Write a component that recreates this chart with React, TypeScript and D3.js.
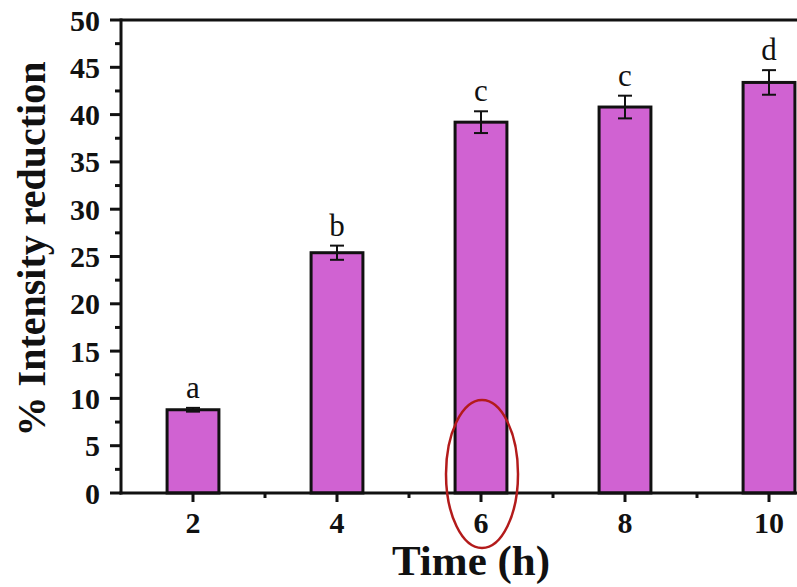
import * as d3 from 'd3';

const times = [2, 4, 6, 8, 10];
const reduction = [8.8, 25.4, 39.2, 40.8, 43.4];
const errors = [0.2, 0.75, 1.15, 1.2, 1.3];
const letters = ['a', 'b', 'c', 'c', 'd'];
const yTicks = [0, 5, 10, 15, 20, 25, 30, 35, 40, 45, 50];
const yMinor = [2.5, 7.5, 12.5, 17.5, 22.5, 27.5, 32.5, 37.5, 42.5, 47.5];
const xMinor = [3, 5, 7, 9];

const W = 797;
const H = 587;
const FONT = '"Liberation Serif", "Times New Roman", serif';

export default function App() {
  const x = d3.scaleLinear().domain([1, 11]).range([121, 841]);
  const y = d3.scaleLinear().domain([0, 50]).range([493, 20]);
  const barW = x(1.72) - x(1);
  const fill = '#d062d2';

  return (
    <svg
      width={W}
      height={H}
      style={{ position: 'absolute', left: 0, top: 0, background: '#fff' }}
      fontFamily={FONT}
    >
      {/* bars */}
      {times.map((t, i) => (
        <rect
          key={t}
          x={x(t) - barW / 2}
          y={y(reduction[i])}
          width={barW}
          height={y(0) - y(reduction[i])}
          fill={fill}
          stroke="#111"
          strokeWidth={3}
        />
      ))}

      {/* error bars */}
      {times.map((t, i) => {
        const cx = x(t);
        const top = y(reduction[i] + errors[i]);
        const bot = y(reduction[i] - errors[i]);
        return (
          <g key={'e' + t} stroke="#111" strokeWidth={2}>
            <line x1={cx} x2={cx} y1={top} y2={bot} />
            <line x1={cx - 7} x2={cx + 7} y1={top} y2={top} />
            <line x1={cx - 7} x2={cx + 7} y1={bot} y2={bot} />
          </g>
        );
      })}

      {/* significance letters */}
      {times.map((t, i) => (
        <text
          key={'l' + t}
          x={x(t)}
          y={y(reduction[i] + errors[i]) - 10}
          textAnchor="middle"
          fontSize={31}
          fill="#111"
        >
          {letters[i]}
        </text>
      ))}

      {/* axes frame */}
      <line x1={121} x2={W} y1={y(50)} y2={y(50)} stroke="#111" strokeWidth={3} />
      <line x1={121} x2={121} y1={y(50) - 1.5} y2={y(0) + 1.5} stroke="#111" strokeWidth={3} />
      <line x1={119.5} x2={W} y1={y(0)} y2={y(0)} stroke="#111" strokeWidth={3} />

      {/* y ticks */}
      {yTicks.map((v) => (
        <g key={'y' + v}>
          <line x1={110} x2={121} y1={y(v)} y2={y(v)} stroke="#111" strokeWidth={3} />
          <text
            x={100}
            y={y(v)}
            dy="0.35em"
            textAnchor="end"
            fontSize={30}
            fontWeight="bold"
            fill="#111"
          >
            {v}
          </text>
        </g>
      ))}
      {yMinor.map((v) => (
        <line key={'ym' + v} x1={115} x2={121} y1={y(v)} y2={y(v)} stroke="#111" strokeWidth={3} />
      ))}

      {/* x ticks */}
      {times.map((t) => (
        <g key={'x' + t}>
          <line x1={x(t)} x2={x(t)} y1={y(0)} y2={y(0) + 9} stroke="#111" strokeWidth={3} />
          <text
            x={x(t)}
            y={533}
            textAnchor="middle"
            fontSize={30}
            fontWeight="bold"
            fill="#111"
          >
            {t}
          </text>
        </g>
      ))}
      {xMinor.map((t) => (
        <line key={'xm' + t} x1={x(t)} x2={x(t)} y1={y(0)} y2={y(0) + 5} stroke="#111" strokeWidth={3} />
      ))}

      {/* axis titles */}
      <text
        x={471}
        y={575}
        textAnchor="middle"
        fontSize={43}
        fontWeight="bold"
        fill="#111"
      >
        Time (h)
      </text>
      <text
        transform="translate(45, 249) rotate(-90)"
        textAnchor="middle"
        fontSize={40}
        fontWeight="bold"
        fill="#111"
      >
        % Intensity reduction
      </text>

      {/* highlight */}
      <ellipse
        cx={x(6) + 1}
        cy={474}
        rx={36}
        ry={74}
        fill="none"
        stroke="#b31b1b"
        strokeWidth={2.5}
      />
    </svg>
  );
}
